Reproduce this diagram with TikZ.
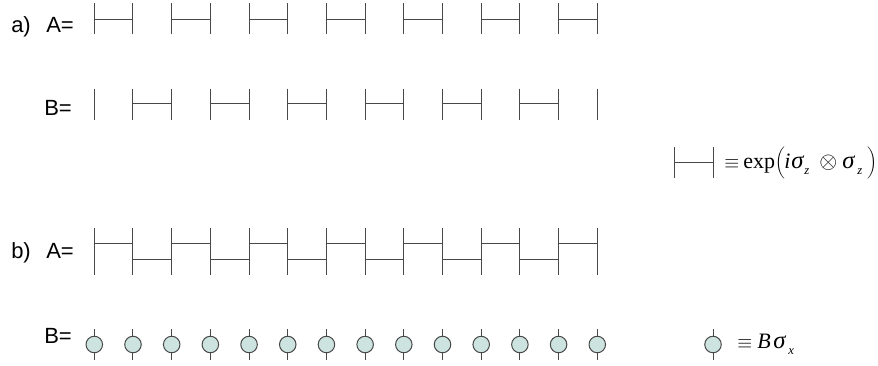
\documentclass[tikz,border=0pt]{standalone}
\usetikzlibrary{calc}
\usepackage{fontspec}
\setmainfont{Liberation Sans}
\newfontfamily\serifface{Liberation Serif}
\definecolor{wire}{HTML}{484848}
\definecolor{bead}{HTML}{CCE3DF}
\tikzset{
  wireline/.style={draw=wire,line width=0.75pt},
  beadnode/.style={circle,draw=wire,fill=bead,line width=0.75pt,minimum size=12.4pt,inner sep=0pt},
  lab/.style={anchor=base west,inner sep=0pt,font=\fontsize{16.5pt}{18pt}\selectfont},
  eqn/.style={anchor=base west,inner sep=0pt,font=\fontsize{16.5pt}{18pt}\selectfont\serifface,text=black}
}
\newcommand{\colx}[1]{94.3+38.69*#1}
% one piece of a formula, given the pixels it takes up
\newcommand{\piece}[2]{\makebox[#1\dimexpr 0.75pt\relax][l]{#2}}
\newcommand{\eqv}{{\fontsize{14.4pt}{16pt}\selectfont$\equiv$}}
\newcommand{\sig}{{\fontsize{18.5pt}{20pt}\selectfont\textit{σ}}}
\newcommand{\subs}[1]{\raisebox{-4.5pt}{\fontsize{9.5pt}{10pt}\selectfont\textit{#1}}}
\begin{document}
\begin{tikzpicture}[x=0.75pt,y=-0.75pt]
\useasboundingbox (0,0) rectangle (878,365);
% labels
\node[lab] (la) at (11,32) {a)};
\node[lab] (laA) at (46,32) {A=};
\node[lab] (laB) at (44,115) {B=};
\node[lab] (lb) at (11,258) {b)};
\node[lab] (lbA) at (46,258) {A=};
\node[lab] (lbB) at (44,343) {B=};
% wires
\foreach \i in {0,...,13}{
  \coordinate (at\i) at ({\colx{\i}},3);
  \coordinate (ab\i) at ({\colx{\i}},34);
  \coordinate (bt\i) at ({\colx{\i}},88.5);
  \coordinate (bb\i) at ({\colx{\i}},120);
  \coordinate (ct\i) at ({\colx{\i}},228);
  \coordinate (cb\i) at ({\colx{\i}},275);
  \coordinate (dt\i) at ({\colx{\i}},329);
  \coordinate (db\i) at ({\colx{\i}},360);
  \draw[wireline] (at\i) -- (ab\i);
  \draw[wireline] (bt\i) -- (bb\i);
  \draw[wireline] (ct\i) -- (cb\i);
  \draw[wireline] (dt\i) -- (db\i);
  \node[beadnode] (bead\i) at ({\colx{\i}},344.5) {};
}
% gates
\foreach \i/\j in {0/1,2/3,4/5,6/7,8/9,10/11,12/13}{
  \draw[wireline] ($(at\i)!0.516!(ab\i)$) -- ($(at\j)!0.516!(ab\j)$);
  \draw[wireline] ($(ct\i)!0.34!(cb\i)$) -- ($(ct\j)!0.34!(cb\j)$);
}
\foreach \i/\j in {1/2,3/4,5/6,7/8,9/10,11/12}{
  \draw[wireline] ($(bt\i)!0.49!(bb\i)$) -- ($(bt\j)!0.49!(bb\j)$);
  \draw[wireline] ($(ct\i)!0.66!(cb\i)$) -- ($(ct\j)!0.66!(cb\j)$);
}
% legend gate
\coordinate (g1t) at (674,147);
\coordinate (g1b) at (674,178);
\coordinate (g2t) at (713,147);
\coordinate (g2b) at (713,178);
\draw[wireline] (g1t) -- (g1b);
\draw[wireline] (g2t) -- (g2b);
\draw[wireline] ($(g1t)!0.5!(g1b)$) -- ($(g2t)!0.5!(g2b)$);
\node[eqn] (eqa) at (724,168.5) {\piece{19}{\eqv}\piece{32}{exp}\piece{9}{$\biggl($}\piece{7}{\textit{i}}\piece{13}{\sig}\piece{15}{\subs{z}}\piece{23}{{\fontsize{17.28pt}{19pt}\selectfont$\otimes$}}\piece{15}{\sig}\piece{10}{\subs{z}}$\biggr)$};
% legend bead
\coordinate (k1) at (713,329);
\coordinate (k2) at (713,360);
\draw[wireline] (k1) -- (k2);
\node[beadnode] (keybead) at (713,344.5) {};
\node[eqn] (eqb) at (737,348) {\piece{20}{\eqv}\piece{16}{\textit{B}}\piece{15}{\sig}\subs{x}};
\end{tikzpicture}
\end{document}
